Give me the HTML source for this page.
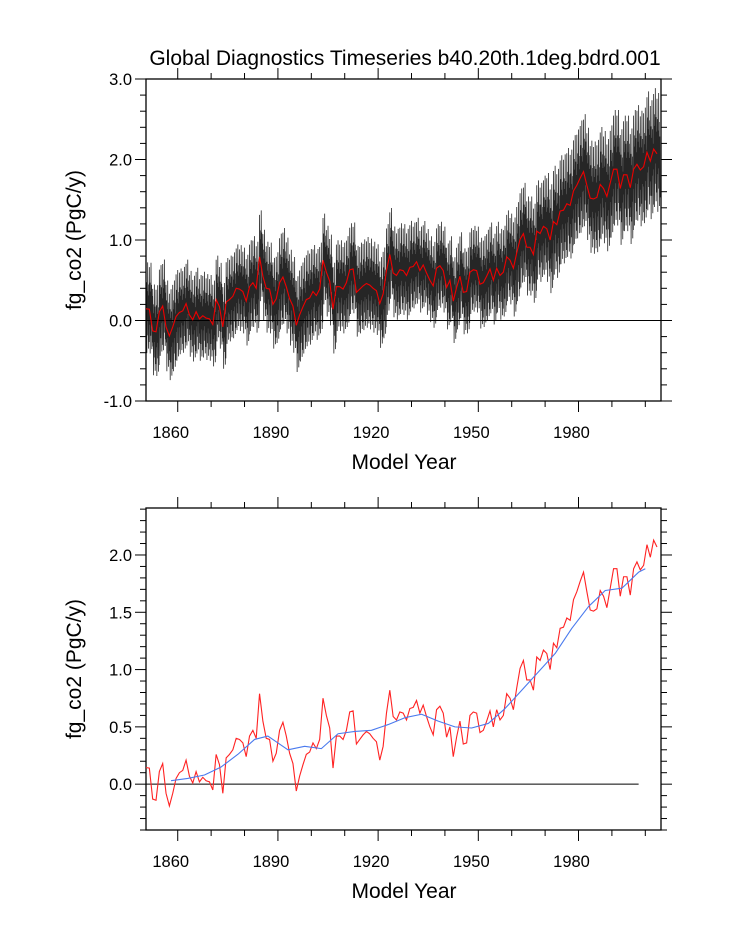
<!DOCTYPE html>
<html><head><meta charset="utf-8">
<style>
html,body{margin:0;padding:0;background:#fff;}
svg{display:block;font-family:"Liberation Sans",sans-serif;}
</style></head>
<body>
<svg id="chart" width="733" height="945" viewBox="0 0 733 945" xmlns="http://www.w3.org/2000/svg">
<text x="405" y="65" font-size="21" text-anchor="middle">Global Diagnostics Timeseries b40.20th.1deg.bdrd.001</text>
<g id="top"></g>
<g id="bot"></g>
</svg>
<script>
const firstYear = 1851;
const annualMean = [0.145,0.14,-0.13,-0.14,0.11,0.18,-0.08,-0.19,-0.08,0.05,0.10,0.12,0.21,0.07,0.01,0.11,0.02,0.06,0.03,0.02,-0.05,0.26,0.17,-0.08,0.23,0.26,0.30,0.40,0.39,0.36,0.24,0.42,0.47,0.40,0.79,0.55,0.40,0.39,0.20,0.27,0.47,0.54,0.42,0.27,0.18,-0.06,0.07,0.17,0.26,0.28,0.36,0.31,0.39,0.75,0.60,0.49,0.14,0.42,0.42,0.39,0.47,0.63,0.64,0.35,0.39,0.43,0.46,0.44,0.40,0.37,0.21,0.33,0.62,0.82,0.59,0.56,
0.63,0.62,0.56,0.66,0.67,0.73,0.62,0.69,0.59,0.50,0.43,0.65,0.68,0.62,0.41,0.50,0.24,0.41,0.55,0.35,0.36,0.60,0.63,0.62,0.45,0.47,0.55,0.64,0.50,0.65,0.56,0.60,0.79,0.75,0.65,0.84,1.01,1.08,0.91,0.91,0.82,1.11,1.08,1.17,1.14,1.00,1.23,1.19,1.36,1.37,1.45,1.43,1.61,1.68,1.77,1.85,1.68,1.52,1.51,1.53,1.69,1.64,1.54,1.71,1.88,1.88,1.64,1.81,1.81,1.65,1.88,1.94,1.87,1.91,2.09,1.98,2.13,2.07];
const smoothYears = [1858,1863,1868,1873,1878,1883,1887,1893,1898,1903,1908,1913,1918,1923,1928,1933,1938,1943,1948,1953,1958,1963,1968,1973,1978,1983,1988,1993,1998,2000];
const smoothVals = [0.03,0.05,0.08,0.15,0.26,0.39,0.42,0.30,0.33,0.31,0.44,0.46,0.47,0.52,0.58,0.61,0.55,0.50,0.49,0.53,0.66,0.82,0.98,1.14,1.36,1.55,1.69,1.71,1.85,1.88];
const seasonalShape = [0.95,-0.35,0.6,-1.0,0.4,-0.6,1.05,-0.25,0.55,-0.9,0.3,-0.75];
const decadeAmp = [0.55,0.52,0.52,0.55,0.58,0.55,0.55,0.55,0.52,0.52,0.55,0.6,0.66,0.68,0.7,0.72];
const topYTicks = ["-1.0","0.0","1.0","2.0","3.0"];
const botYTicks = ["0.0","0.5","1.0","1.5","2.0"];
const xTickYears = [1860,1890,1920,1950,1980];

const NS="http://www.w3.org/2000/svg";
function mk(parent,tag,attrs){const e=document.createElementNS(NS,tag);for(const k in attrs)e.setAttribute(k,attrs[k]);parent.appendChild(e);return e;}
const X0=146,X1=661,XMIN=1850.5,XMAX=2004.7;
const xs=y=>X0+(y-XMIN)/(XMAX-XMIN)*(X1-X0);

function panel(g,top,bottom,ymin,ymax,major,minor,labels,title){
  const ys=v=>bottom-(v-ymin)/(ymax-ymin)*(bottom-top);
  const r=mk(g,'rect',{x:X0,y:top,width:X1-X0,height:bottom-top,fill:'none',stroke:'#000','stroke-width':1.3});
  
  
  for(let v=Math.ceil(ymin/minor-1e-6)*minor; v<=ymax+1e-6; v+=minor){
    const isMaj=Math.abs(v/major-Math.round(v/major))<1e-6;const L=isMaj?11:6;const y=ys(v);
    const t1=mk(g,'line',{x1:X0-L,x2:X0,y1:y,y2:y,stroke:'#000','stroke-width':1});
    
    
    const t2=mk(g,'line',{x1:X1,x2:X1+L,y1:y,y2:y,stroke:'#000','stroke-width':1});
    
    
  }
  labels.forEach(l=>{const t=mk(g,'text',{x:X0-14,y:ys(parseFloat(l))+6,'font-size':16.5,'text-anchor':'end'});t.textContent=l;
    
    });
  for(let yr=1860;yr<=2000;yr+=10){
    const isMaj=xTickYears.includes(yr);const L=isMaj?11:6;const x=xs(yr);
    const a=mk(g,'line',{x1:x,x2:x,y1:bottom,y2:bottom+L,stroke:'#000','stroke-width':1});
    
    
    const b=mk(g,'line',{x1:x,x2:x,y1:top-L,y2:top,stroke:'#000','stroke-width':1});
    
    
  }
  xTickYears.forEach(yr=>{const t=mk(g,'text',{x:xs(yr)-7,y:bottom+37,'font-size':16.5,'text-anchor':'middle'});t.textContent=String(yr);
    
    });
  const xt=mk(g,'text',{x:404,y:bottom+68,'font-size':21,'text-anchor':'middle'});xt.textContent='Model Year';
  
  
  const cy=(top+bottom)/2;
  const yt=mk(g,'text',{x:81,y:cy,'font-size':21,'text-anchor':'middle',transform:`rotate(-90 81 ${cy})`});yt.textContent=title;
  
  
  return ys;
}

const gt=document.getElementById('top');
const ysT=panel(gt,79,401,-1,3,1,0.2,topYTicks,'fg_co2 (PgC/y)');
let pts=[];
annualMean.forEach((m,i)=>{const amp=decadeAmp[Math.min(decadeAmp.length-1,Math.floor(i/10))];
  seasonalShape.forEach((s,j)=>{const yr=firstYear-0.5+i+j/12;pts.push(xs(yr).toFixed(2)+','+ysT(m+amp*s).toFixed(2));});});
const monthly=mk(gt,'polyline',{points:pts.join(' '),fill:'none',stroke:'#000','stroke-width':0.8,'stroke-opacity':0.85});


const z1=mk(gt,'line',{x1:X0,x2:X1,y1:ysT(0),y2:ysT(0),stroke:'#000','stroke-width':1});


const redT=mk(gt,'polyline',{points:annualMean.map((v,i)=>xs(firstYear-0.5+i).toFixed(2)+','+ysT(v).toFixed(2)).join(' '),fill:'none',stroke:'#e00','stroke-width':1.1});



const gb=document.getElementById('bot');
const ysB=panel(gb,508,830,-0.4,2.41,0.5,0.1,botYTicks,'fg_co2 (PgC/y)');
const z2=mk(gb,'line',{x1:X0,x2:xs(1998),y1:ysB(0),y2:ysB(0),stroke:'#000','stroke-width':1});


const red=mk(gb,'polyline',{points:annualMean.map((v,i)=>xs(firstYear-0.5+i).toFixed(2)+','+ysB(v).toFixed(2)).join(' '),fill:'none',stroke:'#f22','stroke-width':1.1});


const blue=mk(gb,'polyline',{points:smoothYears.map((y,i)=>xs(y).toFixed(2)+','+ysB(smoothVals[i]).toFixed(2)).join(' '),fill:'none',stroke:'#4a7aee','stroke-width':1.1,'stroke-linejoin':'round'});


</script>
</body></html>
